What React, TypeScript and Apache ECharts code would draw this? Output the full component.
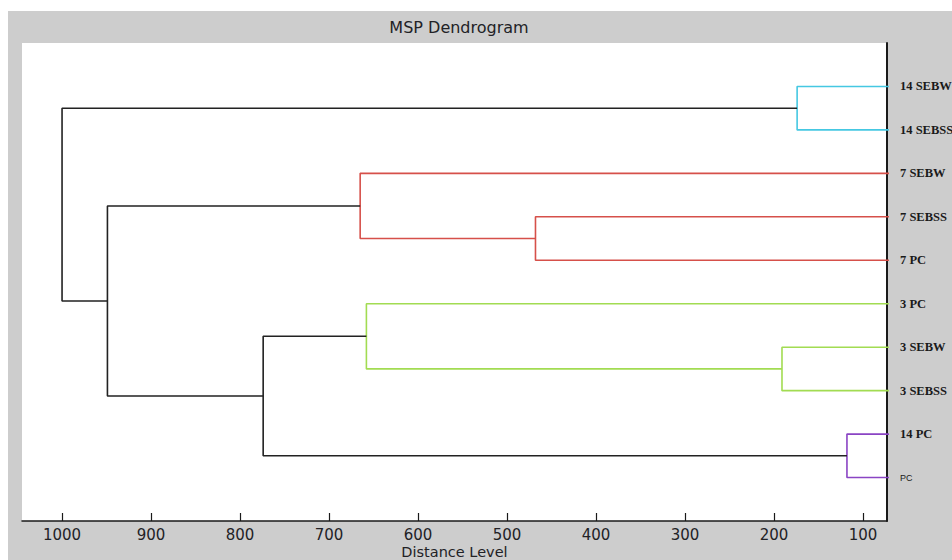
import React, { useEffect, useRef } from "react";
import * as echarts from "echarts";

// Leaves, top to bottom
const leaves = ["14 SEBW", "14 SEBSS", "7 SEBW", "7 SEBSS", "7 PC", "3 PC", "3 SEBW", "3 SEBSS", "14 PC", "PC"];
// Merges: child A, child B, distance, colour; children are leaf names or "M<index>"
const mergeChildA = ["14 SEBW", "7 SEBSS", "7 SEBW", "3 SEBW", "3 PC", "14 PC", "M4", "M2", "M0"];
const mergeChildB = ["14 SEBSS", "7 PC", "M1", "3 SEBSS", "M3", "PC", "M5", "M6", "M7"];
const mergeHeight = [174, 468, 665, 191, 658, 118, 774, 949, 1000];
const mergeColor = ["#45c8e2", "#d6504a", "#d6504a", "#a2dc52", "#a2dc52", "#8a44c4", "#222222", "#222222", "#222222"];
const tickValues = [100, 200, 300, 400, 500, 600, 700, 800, 900, 1000];

export default function App() {
  const ref = useRef<HTMLDivElement>(null);
  useEffect(() => {
    if (!ref.current) return;
    const chart = echarts.init(ref.current, null, { renderer: "svg" });

    const pos: Record<string, { y: number; h: number }> = {};
    leaves.forEach((n, i) => (pos[n] = { y: i + 1, h: 0 }));
    const series: any[] = [];
    mergeHeight.forEach((h, i) => {
      const a = pos[mergeChildA[i]];
      const b = pos[mergeChildB[i]];
      pos["M" + i] = { y: (a.y + b.y) / 2, h };
      series.push({
        type: "line",
        data: [
          [a.h, a.y],
          [h, a.y],
          [h, b.y],
          [b.h, b.y],
        ],
        symbol: "none",
        clip: true,
        lineStyle: { color: mergeColor[i], width: 1.6 },
        silent: true,
      });
    });

    const sans = "DejaVu Sans, Verdana, sans-serif";
    chart.setOption({
      animation: false,
      backgroundColor: "#cdcdcd",
      title: {
        text: "MSP Dendrogram",
        left: 446,
        top: 3,
        textAlign: "center",
        textStyle: { fontFamily: sans, fontWeight: "normal", fontSize: 16, color: "#222226" },
      },
      grid: {
        left: 14,
        right: 65,
        top: 32,
        bottom: 39,
        show: true,
        backgroundColor: "#ffffff",
        borderWidth: 0,
        outerBoundsMode: "none",
        containLabel: false,
      },
      xAxis: {
        type: "value",
        inverse: true,
        min: 73,
        max: 1045,
        position: "bottom",
        name: "Distance Level",
        nameLocation: "middle",
        nameGap: 23,
        nameMoveOverlap: false,
        nameTextStyle: { fontFamily: sans, fontSize: 14.5, lineHeight: 15, color: "#222226" },
        splitLine: { show: false },
        axisLine: { show: true, onZero: false, lineStyle: { color: "#1a1a1a", width: 1.5 } },
        axisTick: { show: true, inside: true, length: 8, customValues: tickValues, lineStyle: { color: "#1a1a1a", width: 1.2 } },
        axisLabel: {
          customValues: tickValues,
          margin: 6,
          formatter: (v: number) => String(v),
          fontFamily: sans,
          fontSize: 15,
          color: "#222226",
        },
      },
      yAxis: {
        type: "value",
        inverse: true,
        min: 0,
        max: leaves.length + 1,
        position: "right",
        splitLine: { show: false },
        axisLine: { show: true, onZero: false, lineStyle: { color: "#1a1a1a", width: 2 } },
        axisTick: { show: false },
        axisLabel: {
          customValues: leaves.map((_, i) => i + 1),
          margin: 13,
          formatter: (v: number) => {
            const n = leaves[Math.round(v) - 1];
            return n === "PC" ? "{s|" + n + "}" : "{b|" + n + "}";
          },
          rich: {
            b: { fontFamily: "Liberation Serif, Times New Roman", fontWeight: "bold", fontSize: 12.5, color: "#1a1a1a" },
            s: { fontFamily: "Liberation Sans, Arial", fontSize: 9, color: "#1a1a1a" },
          },
        },
      },
      series,
    });
    return () => chart.dispose();
  }, []);

  return (
    <div
      ref={ref}
      style={{ position: "absolute", left: 8, top: 11, width: 944, height: 549 }}
    />
  );
}
